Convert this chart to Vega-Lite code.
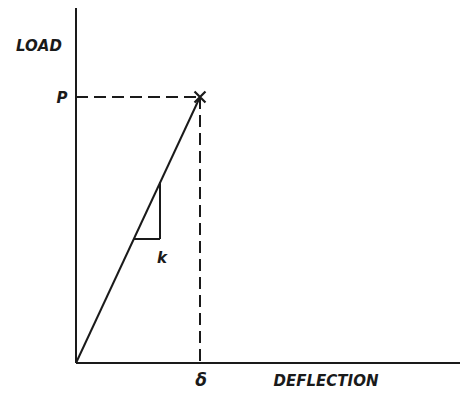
{
  "$schema": "https://vega.github.io/schema/vega-lite/v6.json",
  "width": 384,
  "height": 355,
  "autosize": "none",
  "padding": {"left": 76, "right": 0, "top": 8, "bottom": 32},
  "background": "white",
  "config": {"view": {"stroke": null}},
  "datasets": {
    "solid": [
      {"part": "y axis", "x": 0, "y": 0, "x2": 0, "y2": 355},
      {"part": "x axis", "x": 0, "y": 0, "x2": 384, "y2": 0},
      {"part": "load line", "x": 0, "y": 0, "x2": 124, "y2": 266},
      {"part": "slope base", "x": 58, "y": 124, "x2": 84, "y2": 124},
      {"part": "slope rise", "x": 84, "y": 124, "x2": 84, "y2": 181}
    ],
    "dashed": [
      {"part": "P level", "x": 0, "y": 266, "x2": 124, "y2": 266},
      {"part": "delta level", "x": 124, "y": 266, "x2": 124, "y2": 0}
    ],
    "peak": [{"x": 124, "y": 266}],
    "labels": [
      {"label": "LOAD", "x": -37, "y": 317, "size": 15},
      {"label": "P", "x": -14, "y": 265, "size": 15},
      {"label": "k", "x": 86, "y": 105, "size": 15},
      {"label": "δ", "x": 125, "y": -18, "size": 17},
      {"label": "DEFLECTION", "x": 250, "y": -18, "size": 15}
    ]
  },
  "layer": [
    {
      "data": {"name": "solid"},
      "mark": {"type": "rule", "color": "#1a1a1a", "strokeWidth": 2, "clip": false},
      "encoding": {
        "x": {"field": "x", "type": "quantitative", "scale": {"domain": [0, 384], "nice": false, "zero": false}, "axis": null},
        "y": {"field": "y", "type": "quantitative", "scale": {"domain": [0, 355], "nice": false, "zero": false}, "axis": null},
        "x2": {"field": "x2"},
        "y2": {"field": "y2"}
      }
    },
    {
      "data": {"name": "dashed"},
      "mark": {"type": "rule", "color": "#1a1a1a", "strokeWidth": 2, "strokeDash": [12, 6], "clip": false},
      "encoding": {
        "x": {"field": "x", "type": "quantitative"},
        "y": {"field": "y", "type": "quantitative"},
        "x2": {"field": "x2"},
        "y2": {"field": "y2"}
      }
    },
    {
      "data": {"name": "peak"},
      "mark": {"type": "point", "shape": "M-1,-1L1,1M-1,1L1,-1", "filled": false, "color": "#1a1a1a", "strokeWidth": 2.2, "size": 120, "opacity": 1, "clip": false},
      "encoding": {
        "x": {"field": "x", "type": "quantitative"},
        "y": {"field": "y", "type": "quantitative"}
      }
    },
    {
      "data": {"name": "labels"},
      "mark": {"type": "text", "font": "DejaVu Sans", "fontStyle": "italic", "fontWeight": "bold", "color": "#1a1a1a", "align": "center", "baseline": "middle", "clip": false},
      "encoding": {
        "x": {"field": "x", "type": "quantitative"},
        "y": {"field": "y", "type": "quantitative"},
        "text": {"field": "label"},
        "size": {"field": "size", "type": "quantitative", "scale": null}
      }
    }
  ]
}
